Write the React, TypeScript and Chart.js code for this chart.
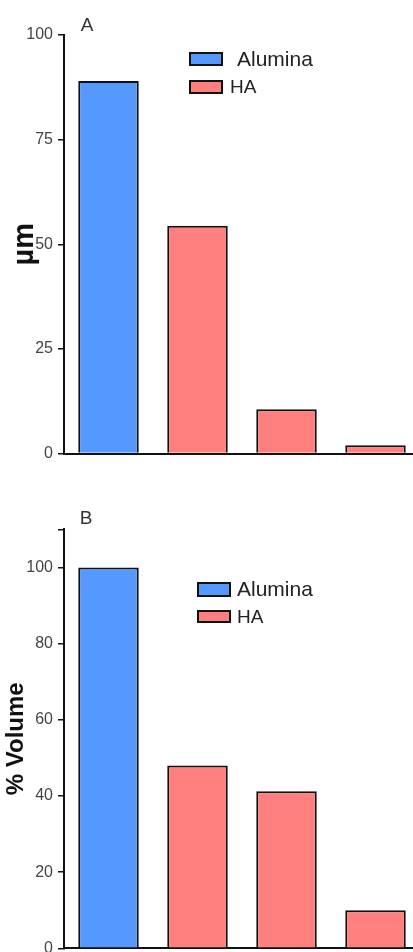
import React, { useEffect, useRef } from 'react';
import { Chart, registerables } from 'chart.js';
Chart.register(...registerables);

// ---- data ----
const categories = ['Alumina', 'HA fraction 1', 'HA fraction 2', 'HA fraction 3'];
const seriesNames = ['Alumina', 'HA'];
const sizeAlumina = [89, null, null, null];
const sizeHA = [null, 54.4, 10.6, 2.0];
const volumeAlumina = [100, null, null, null];
const volumeHA = [null, 48.0, 41.2, 10.0];
const sizeTicks = [0, 25, 50, 75, 100];
const sizeMax = 100;
const volumeTicks = [0, 20, 40, 60, 80, 100];
const volumeMax = 110;
const sizeTitle = 'µm';
const volumeTitle = '% Volume';
const panelLetters = ['A', 'B'];

const BLUE = '#5599ff';
const RED = '#ff7f7f';
const INK = '#111';
const FONT = '"Liberation Sans", Arial, sans-serif';

const decorPlugin = {
  id: 'decor',
  afterDraw(chart: any, _args: any, opts: any) {
    const ctx = chart.ctx;
    ctx.save();
    ctx.fillStyle = '#333';
    ctx.font = `19px ${FONT}`;
    ctx.textAlign = 'center';
    ctx.textBaseline = 'middle';
    ctx.fillText(opts.letter, opts.letterX, opts.letterY);
    chart.data.datasets.forEach((ds: any, i: number) => {
      const r = opts.rows[i];
      ctx.fillStyle = ds.backgroundColor;
      ctx.fillRect(r.x, r.y, r.w, r.h);
      ctx.lineWidth = 2;
      ctx.strokeStyle = INK;
      ctx.strokeRect(r.x, r.y, r.w, r.h);
      ctx.fillStyle = '#222';
      ctx.font = r.font;
      ctx.textAlign = 'left';
      ctx.textBaseline = 'middle';
      ctx.fillText(ds.label, r.textX, r.y + r.h / 2 + 1);
    });
    ctx.restore();
  },
};

function makeConfig(
  alumina: (number | null)[],
  ha: (number | null)[],
  tickVals: number[],
  max: number,
  title: string,
  titleFont: number,
  titlePad: number,
  padTop: number,
  xHeight: number,
  decor: any
): any {
  const ds = (label: string, data: (number | null)[], color: string) => ({
    label,
    data,
    backgroundColor: color,
    borderColor: INK,
    borderWidth: 2,
    grouped: false,
    categoryPercentage: 1,
    barPercentage: 0.68,
  });
  return {
    type: 'bar',
    data: {
      labels: categories,
      datasets: [ds(seriesNames[0], alumina, BLUE), ds(seriesNames[1], ha, RED)],
    },
    plugins: [decorPlugin],
    options: {
      animation: false,
      responsive: false,
      layout: { padding: { top: padTop, right: 10, left: 0, bottom: 0 } },
      plugins: {
        legend: { display: false },
        tooltip: { enabled: false },
        decor,
      },
      scales: {
        x: {
          type: 'category',
          offset: true,
          grid: { display: false },
          border: { display: true, color: INK, width: 2 },
          ticks: { display: false },
          afterFit: (s: any) => {
            s.height = xHeight;
          },
        },
        y: {
          min: 0,
          max,
          afterBuildTicks: (s: any) => {
            const vals = tickVals.includes(max) ? tickVals : [...tickVals, max];
            s.ticks = vals.map((v) => ({ value: v }));
          },
          afterFit: (s: any) => {
            s.width = 64;
          },
          grid: {
            display: true,
            drawOnChartArea: false,
            drawTicks: true,
            tickLength: 6,
            color: INK,
            lineWidth: 1.5,
          },
          border: { display: true, color: INK, width: 2 },
          ticks: {
            padding: 5,
            color: '#444',
            font: { family: FONT, size: 16 },
            callback: (v: any) => (tickVals.includes(Number(v)) ? String(v) : ''),
          },
          title: {
            display: true,
            text: title,
            color: '#111',
            font: { family: FONT, size: titleFont, weight: 'bold' },
            padding: { top: titlePad, bottom: 0 },
          },
        },
      },
    },
  };
}

export default function App() {
  const refA = useRef<HTMLCanvasElement>(null);
  const refB = useRef<HTMLCanvasElement>(null);

  useEffect(() => {
    const a = new Chart(
      refA.current as HTMLCanvasElement,
      makeConfig(sizeAlumina, sizeHA, sizeTicks, sizeMax, sizeTitle, 29, 8, 35, 16.5, {
        letter: panelLetters[0],
        letterX: 87,
        letterY: 26,
        rows: [
          { x: 190, y: 53, w: 32, h: 12, textX: 237, font: `21px ${FONT}` },
          { x: 190, y: 81, w: 32, h: 12, textX: 230, font: `19px ${FONT}` },
        ],
      })
    );
    const b = new Chart(
      refB.current as HTMLCanvasElement,
      makeConfig(volumeAlumina, volumeHA, volumeTicks, volumeMax, volumeTitle, 24, 2, 49.3, 21.7, {
        letter: panelLetters[1],
        letterX: 86,
        letterY: 39,
        rows: [
          { x: 198, y: 103, w: 32, h: 13, textX: 237, font: `21px ${FONT}` },
          { x: 198, y: 131, w: 32, h: 11, textX: 237, font: `19px ${FONT}` },
        ],
      })
    );
    return () => {
      a.destroy();
      b.destroy();
    };
  }, []);

  return (
    <div
      style={{
        position: 'absolute',
        left: 0,
        top: 0,
        width: 413,
        height: 952,
        overflow: 'hidden',
        background: '#fff',
      }}
    >
      <canvas
        ref={refA}
        width={430}
        height={470}
        style={{ position: 'absolute', left: 0, top: 0, width: 430, height: 470 }}
      />
      <canvas
        ref={refB}
        width={430}
        height={490}
        style={{ position: 'absolute', left: 0, top: 480, width: 430, height: 490 }}
      />
    </div>
  );
}
